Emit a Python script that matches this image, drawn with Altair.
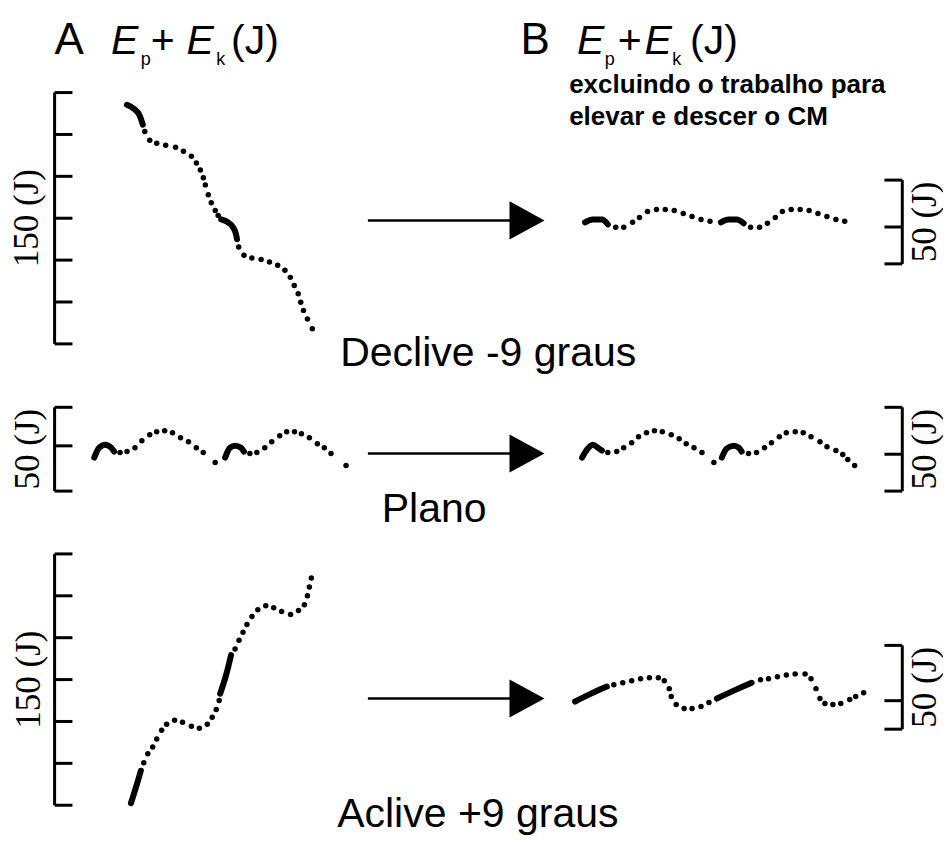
import altair as alt
import pandas as pd

# ---------------- data ----------------
# time in % of stride (two strides: 0-200), energy in J above the scale bar's zero
# thick (slow) stretches are "solid", the rest are dots

# A: Ep+Ek, Declive -9 graus
A_DEC_SOLID = [
    [(0, 142.7), (7.4, 140.3), (13.4, 136.4), (16.8, 130.9)],
    [(100, 74.3), (107.4, 72.5), (112.6, 69.6), (115.8, 65.4), (116.8, 62.5)],
]
A_DEC_T = [18.9, 24.2, 31.6, 41.1, 51.6, 60, 68.4, 73.7, 77.9, 81.1, 83.2, 86.3, 89.5, 93.7, 96.8,
           118.6, 124.2, 132.6, 142.4, 151.3, 160, 167.7, 173.4, 177.6, 181.8, 184.5, 187.4, 191.6, 196.8]
A_DEC_E = [126.8, 121.5, 119.7, 118.5, 117.3, 115.0, 112.0, 107.9, 103.8, 99.1, 94.9, 89.0, 84.3, 79.6, 76.7,
           57.8, 52.9, 51.3, 50.3, 48.9, 47.0, 44.0, 39.7, 34.8, 29.9, 24.8, 20.0, 14.9, 9.0]

# A: Plano
A_PLA_SOLID = [
    [(0, 20.0), (3.8, 25.9), (8.3, 27.7), (12.9, 25.9), (15.2, 23.6)],
    [(100, 20.0), (103.8, 25.9), (107.6, 27.1), (112.1, 25.9), (114.4, 23.6)],
]
A_PLA_T = [19.7, 25, 31.1, 36.4, 42.4, 47.7, 53.8, 59.8, 65.9, 72.0, 78.0, 83.3, 92.4,
           118.9, 124.2, 130.3, 135.6, 141.7, 147.0, 153.0, 158.3, 164.4, 170.5, 175.8, 180.9, 192.4]
A_PLA_E = [23.0, 23.6, 25.9, 30.1, 33.6, 35.4, 36.0, 34.8, 31.8, 29.5, 25.9, 23.0, 17.1,
           22.4, 23.0, 25.9, 29.5, 33.0, 35.4, 35.4, 34.2, 31.8, 28.3, 25.9, 22.4, 15.3]

# A: Aclive +9 graus
A_ACL_SOLID = [
    [(0, 1.2), (5.6, 10.6), (11.1, 20.6)],
    [(100, 66.6), (106.7, 77.8), (112.2, 89.6)],
]
A_ACL_T = [14.4, 18.9, 24.4, 28.9, 34.4, 40.0, 48.9, 57.8, 67.8, 76.7, 85.6, 91.1, 95.6, 98.9,
           116.7, 121.1, 125.6, 130.0, 135.6, 142.2, 151.1, 160.0, 168.9, 178.9, 187.8, 194.4, 197.8, 200.0, 202.2]
A_ACL_E = [25.4, 30.7, 34.8, 39.5, 44.8, 48.3, 50.7, 49.5, 47.2, 46.0, 48.3, 52.5, 57.2, 62.5,
           93.2, 98.5, 103.2, 107.9, 112.6, 116.7, 119.1, 117.9, 115.6, 113.8, 116.2, 119.7, 125.0, 130.3, 135.6]

# B: Ep+Ek excluding the work to raise/lower the CM, Declive
B_DEC_SOLID = [
    [(0, 24.8), (5.8, 26.5), (12.4, 26.5), (16.8, 23.6)],
    [(100, 24.8), (105.8, 26.5), (111.7, 26.5), (116.8, 24.2)],
]
B_DEC_T = [22.6, 28.5, 35.0, 40.1, 46.0, 52.6, 59.1, 65.7, 72.3, 78.8, 85.4, 92.0,
           121.9, 128.5, 134.3, 140.1, 145.3, 151.8, 158.4, 165.0, 171.5, 178.1, 184.7, 191.2]
B_DEC_E = [21.8, 21.8, 24.8, 27.7, 31.3, 32.4, 32.4, 31.8, 30.1, 28.3, 26.5, 25.4,
           21.8, 21.8, 24.2, 27.7, 31.3, 32.4, 32.4, 31.8, 30.1, 28.3, 26.5, 25.4]

# B: Plano
B_PLA_SOLID = [
    [(0, 20.0), (3.5, 24.8), (7.8, 27.7), (11.3, 25.9), (14.2, 24.2)],
    [(100, 20.0), (103.5, 25.4), (108.5, 27.1), (112.1, 25.9), (114.2, 23.6)],
]
B_PLA_T = [18.4, 24.8, 29.8, 35.5, 40.4, 46.1, 51.8, 57.4, 63.8, 69.5, 74.5, 80.1, 85.8, 94.3,
           119.1, 124.8, 130.5, 135.5, 141.1, 146.1, 152.5, 158.2, 163.8, 170.2, 175.2, 181.6, 186.5, 190.1, 195.0]
B_PLA_E = [23.0, 23.6, 25.9, 28.9, 32.4, 34.8, 36.0, 35.4, 33.6, 31.3, 28.3, 25.9, 23.0, 17.1,
           22.4, 23.0, 25.9, 28.9, 32.4, 34.8, 35.4, 34.8, 32.4, 29.5, 26.5, 24.2, 21.8, 18.9, 15.3]

# B: Aclive
B_ACL_SOLID = [
    [(0, 16.5), (11.2, 21.2), (22.4, 25.4)],
    [(100, 18.3), (111.9, 23.0), (124.5, 27.7)],
]
B_ACL_T = [27.3, 33.6, 39.9, 46.2, 52.4, 58.7, 62.9, 66.4, 67.8, 71.3, 76.9, 82.5, 88.8, 94.4,
           130.8, 136.4, 142.7, 149.0, 155.2, 162.2, 166.4, 169.9, 172.7, 176.2, 181.8, 187.4, 193.7, 197.9, 203.5]
B_ACL_E = [26.5, 27.7, 28.9, 30.1, 30.7, 30.7, 28.9, 24.2, 19.5, 14.7, 12.4, 12.4, 13.6, 15.9,
           29.5, 30.1, 31.3, 32.4, 33.0, 33.0, 30.1, 24.2, 18.3, 15.3, 14.7, 15.3, 17.7, 19.5, 21.8]

# scale bars (J) and their tick values
BAR_150_TICKS = [0, 25, 50, 75, 100, 125, 150]
BAR_A_PLA_TICKS = [0, 27, 50]
BAR_B_DEC_TICKS = [0, 22, 50]
BAR_B_PLA_TICKS = [0, 22, 50]
BAR_B_ACL_TICKS = [0, 17, 50]

ROW_LABELS = ["Declive -9 graus", "Plano", "Aclive +9 graus"]
SUBTITLE = ["excluindo o trabalho para", "elevar e descer o CM"]

# ---------------- layout (figure units = page pixels) ----------------
PX_PER_J = 1.696
SERIF = "Liberation Serif"
SANS = "Liberation Sans"

PANELS = [
    dict(solid=A_DEC_SOLID, t=A_DEC_T, e=A_DEC_E, x0=128, sx=0.95, y0=348, bx=55, d=1, ticks=BAR_150_TICKS, lab="150 (J)", lx=27),
    dict(solid=A_PLA_SOLID, t=A_PLA_T, e=A_PLA_E, x0=95, sx=1.32, y0=497, bx=55, d=1, ticks=BAR_A_PLA_TICKS, lab="50 (J)", lx=28),
    dict(solid=A_ACL_SOLID, t=A_ACL_T, e=A_ACL_E, x0=132, sx=0.90, y0=815, bx=55, d=1, ticks=BAR_150_TICKS, lab="150 (J)", lx=29),
    dict(solid=B_DEC_SOLID, t=B_DEC_T, e=B_DEC_E, x0=590, sx=1.37, y0=267, bx=910, d=-1, ticks=BAR_B_DEC_TICKS, lab="50 (J)", lx=933),
    dict(solid=B_PLA_SOLID, t=B_PLA_T, e=B_PLA_E, x0=587, sx=1.41, y0=497, bx=910, d=-1, ticks=BAR_B_PLA_TICKS, lab="50 (J)", lx=933),
    dict(solid=B_ACL_SOLID, t=B_ACL_T, e=B_ACL_E, x0=580, sx=1.43, y0=738, bx=910, d=-1, ticks=BAR_B_ACL_TICKS, lab="50 (J)", lx=933),
]
TICK_LEN = 18
ARROW_Y = [223, 459, 707]
ARROW_X = (371, 520)
HEAD_X = 531.5

dots, solid, rules, barlabels = [], [], [], []
seg = 0
for p in PANELS:
    fx = lambda t, p=p: p["x0"] + t * p["sx"]
    fy = lambda e, p=p: p["y0"] - e * PX_PER_J
    for t, e in zip(p["t"], p["e"]):
        dots.append({"X": fx(t), "Y": fy(e)})
    for s in p["solid"]:
        for i, (t, e) in enumerate(s):
            solid.append({"X": fx(t), "Y": fy(e), "seg": seg, "o": i})
        seg += 1
    top = max(p["ticks"])
    rules.append({"X": p["bx"], "Y": fy(0), "X2": p["bx"], "Y2": fy(top), "w": 3})
    for tk in p["ticks"]:
        rules.append({"X": p["bx"], "Y": fy(tk), "X2": p["bx"] + p["d"] * TICK_LEN, "Y2": fy(tk), "w": 3})
    barlabels.append({"X": p["lx"], "Y": fy(top / 2), "label": p["lab"]})

for ay in ARROW_Y:
    rules.append({"X": ARROW_X[0], "Y": ay, "X2": ARROW_X[1], "Y2": ay, "w": 2.5})

dots_df = pd.DataFrame(dots)
solid_df = pd.DataFrame(solid)
rules_df = pd.DataFrame(rules)
bar_lab_df = pd.DataFrame(barlabels)
heads_df = pd.DataFrame({"X": [HEAD_X] * 3, "Y": ARROW_Y})

XS = alt.Scale(domain=[8, 943], nice=False, zero=False)
YS = alt.Scale(domain=[8, 835], nice=False, zero=False, reverse=True)


def xy(df_chart):
    return df_chart.encode(
        x=alt.X("X:Q", scale=XS, axis=None),
        y=alt.Y("Y:Q", scale=YS, axis=None),
    )


def text_layer(rows, **kw):
    df = pd.DataFrame(rows, columns=["X", "Y", "label"])
    return xy(alt.Chart(df).mark_text(color="black", **kw)).encode(text="label:N")


rule_layer = alt.Chart(rules_df).mark_rule(color="black").encode(
    x=alt.X("X:Q", scale=XS, axis=None),
    y=alt.Y("Y:Q", scale=YS, axis=None),
    x2="X2:Q",
    y2="Y2:Q",
    strokeWidth=alt.StrokeWidth("w:Q", scale=None),
)

dot_layer = xy(alt.Chart(dots_df).mark_circle(color="black", size=30, opacity=1))

solid_layer = xy(
    alt.Chart(solid_df).mark_line(color="black", strokeWidth=6, strokeCap="round", interpolate="monotone")
).encode(detail="seg:N", order="o:Q")

head_layer = xy(
    alt.Chart(heads_df).mark_point(
        shape="M-1,-1.09L1,0L-1,1.09Z", size=1225, filled=True, color="black", opacity=1, strokeWidth=0
    )
)

bar_label_layer = xy(
    alt.Chart(bar_lab_df).mark_text(font=SERIF, fontSize=35, angle=270, align="center", baseline="middle", color="black")
).encode(text="label:N")

# titles
big = text_layer([(55, 55, "A"), (525, 55, "B")], font=SANS, fontSize=44, align="left", baseline="alphabetic")
e_it = text_layer([(112, 55, "E"), (188, 55, "E"), (582, 55, "E"), (650, 55, "E")],
                  font=SANS, fontSize=41, fontStyle="italic", align="left", baseline="alphabetic")
plus_j = text_layer([(152, 55, "+"), (233, 55, "(J)"), (623, 55, "+"), (696, 55, "(J)")],
                    font=SANS, fontSize=41, align="left", baseline="alphabetic")
subs = text_layer([(142, 66, "p"), (218, 66, "k"), (610, 66, "p"), (678, 66, "k")],
                  font=SANS, fontSize=18, align="left", baseline="alphabetic")
subtitle = text_layer([(574, 94, SUBTITLE[0]), (574, 126, SUBTITLE[1])],
                      font=SANS, fontSize=26, fontWeight="bold", align="left", baseline="alphabetic")
rows = text_layer([(343, 370, ROW_LABELS[0]), (385, 528, ROW_LABELS[1]), (340, 837, ROW_LABELS[2])],
                  font=SANS, fontSize=41, align="left", baseline="alphabetic")

chart = alt.layer(
    rule_layer, solid_layer, dot_layer, head_layer, bar_label_layer,
    big, e_it, plus_j, subs, subtitle, rows,
).properties(
    width=935, height=827,
    autosize=alt.AutoSizeParams(type="fit", contains="padding"),
    padding=0, background="white",
).configure_view(stroke=None)

chart.save("out.html", embed_options={"renderer": "svg", "actions": False})
